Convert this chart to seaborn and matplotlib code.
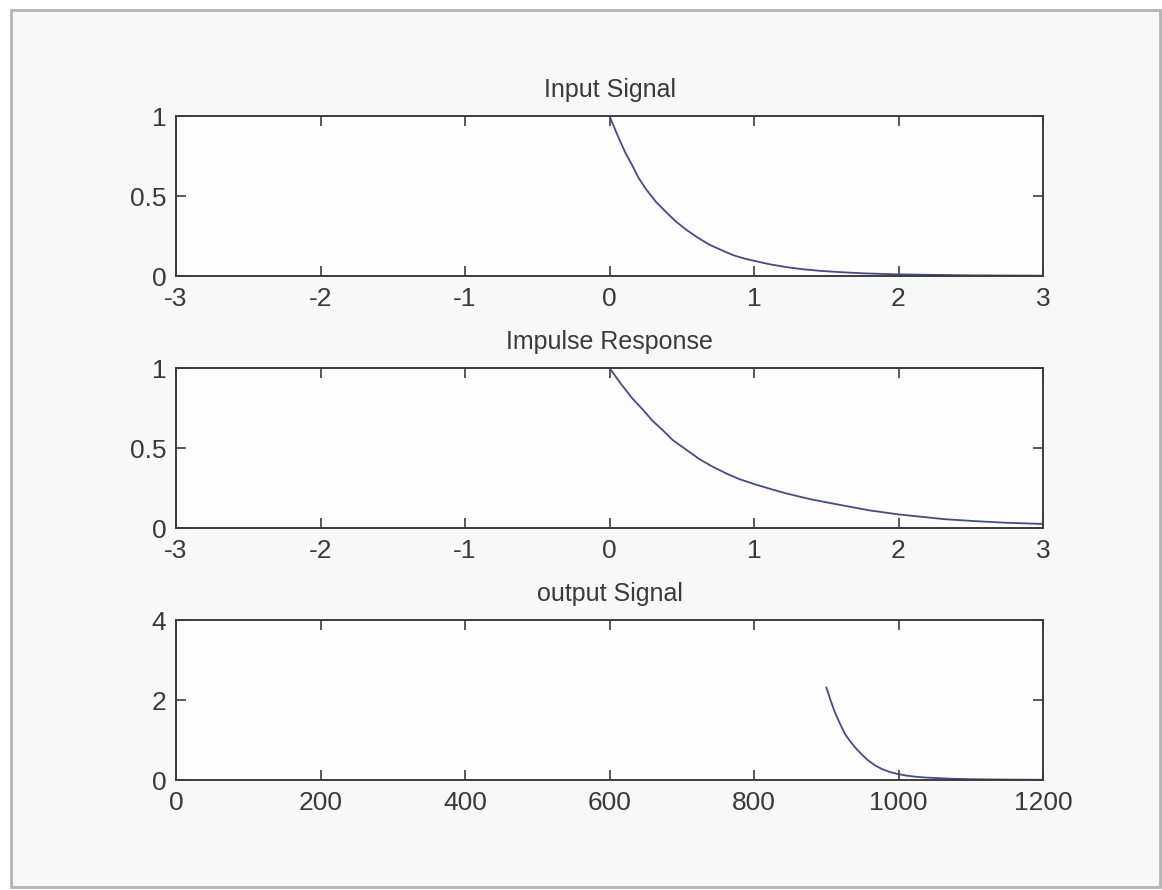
import numpy as np
import pandas as pd
import matplotlib
matplotlib.use("Agg")
import matplotlib.pyplot as plt
from matplotlib.patches import Rectangle
import seaborn as sns

# ---- data ----
t_input = [0.0, 0.032, 0.065, 0.11, 0.158, 0.2, 0.251, 0.32, 0.391, 0.46, 0.53, 0.61,
           0.693, 0.78, 0.856, 0.93, 1.0, 1.11, 1.228, 1.34, 1.46, 1.6, 1.75, 2.0, 2.5, 3.0]
y_input = [1.0, 0.93, 0.86, 0.77, 0.69, 0.615, 0.545, 0.465, 0.40, 0.34, 0.29, 0.24,
           0.195, 0.16, 0.13, 0.11, 0.095, 0.073, 0.055, 0.042, 0.032, 0.024, 0.017, 0.01, 0.004, 0.002]

t_impulse = [0.0, 0.08, 0.158, 0.23, 0.298, 0.37, 0.437, 0.53, 0.623, 0.71, 0.81, 0.9,
             1.0, 1.11, 1.228, 1.39, 1.62, 1.8, 2.0, 2.16, 2.32, 2.53, 2.74, 3.0]
y_impulse = [1.0, 0.90, 0.81, 0.74, 0.67, 0.61, 0.55, 0.49, 0.43, 0.385, 0.34, 0.305,
             0.275, 0.245, 0.215, 0.18, 0.14, 0.11, 0.085, 0.07, 0.055, 0.043, 0.033, 0.025]

n_output = [900, 906, 912, 919, 926, 933, 940, 949, 958, 967, 977, 988, 999, 1011,
            1023, 1037, 1051, 1075, 1100, 1150, 1200]
y_output = [2.32, 1.99, 1.69, 1.41, 1.15, 0.97, 0.815, 0.64, 0.49, 0.37, 0.275, 0.2, 0.15,
            0.11, 0.083, 0.062, 0.05, 0.03, 0.02, 0.01, 0.005]

titles = ["Input Signal", "Impulse Response", "output Signal"]
xticks_time = [-3, -2, -1, 0, 1, 2, 3]
yticks_unit = [0, 0.5, 1]
xticks_out = [0, 200, 400, 600, 800, 1000, 1200]
yticks_out = [0, 2, 4]

sns.set_style("white")
plt.rcParams["font.family"] = ["Liberation Sans", "DejaVu Sans"]

W, H = 1162, 890
fig = plt.figure(figsize=(W / 100, H / 100), dpi=100)
fig.patch.set_facecolor("#ffffff")
border = Rectangle((11 / W, 1 - 887 / H), (1160 - 11) / W, (887 - 10) / H,
                   transform=fig.transFigure, facecolor="#f8f8f8",
                   edgecolor="#b4b4b4", linewidth=2.0, zorder=-10)
fig.add_artist(border)

line_color = "#48488e"
axis_color = "#3c3c3c"
text_color = "#3a3a3a"

x0, x1 = 176, 1043
rows = [(116, 276), (368, 528), (620, 780)]
axes = []
for (top, bot) in rows:
    ax = fig.add_axes([x0 / W, 1 - bot / H, (x1 - x0) / W, (bot - top) / H])
    ax.set_facecolor("#fdfdfd")
    ax.set_zorder(1)
    axes.append(ax)

datasets = [
    (pd.DataFrame({"x": t_input, "y": y_input}), xticks_time, yticks_unit, (-3, 3), (0, 1)),
    (pd.DataFrame({"x": t_impulse, "y": y_impulse}), xticks_time, yticks_unit, (-3, 3), (0, 1)),
    (pd.DataFrame({"x": n_output, "y": y_output}), xticks_out, yticks_out, (0, 1200), (0, 4)),
]

for ax, (df, xt, yt, xl, yl), title in zip(axes, datasets, titles):
    sns.lineplot(data=df, x="x", y="y", ax=ax, color=line_color, linewidth=1.3,
                 estimator=None, sort=False)
    ax.set_xlim(*xl)
    ax.set_ylim(*yl)
    ax.set_xticks(xt)
    ax.set_yticks(yt)
    ax.set_xticklabels([str(v) for v in xt])
    ax.set_yticklabels([("%g" % v) for v in yt])
    ax.set_xlabel("")
    ax.set_ylabel("")
    for s in ax.spines.values():
        s.set_visible(True)
        s.set_color(axis_color)
        s.set_linewidth(1.4)
    ax.tick_params(direction="in", length=7, width=1.2, color=axis_color,
                   top=True, right=True, bottom=True, left=True,
                   labelsize=19, labelcolor=text_color)
    ax.tick_params(axis="x", pad=8)
    ax.tick_params(axis="y", pad=7)
    ax.set_title(title, fontsize=18, color=text_color, pad=14)

fig.savefig("out.png", dpi=100, facecolor=fig.get_facecolor())
